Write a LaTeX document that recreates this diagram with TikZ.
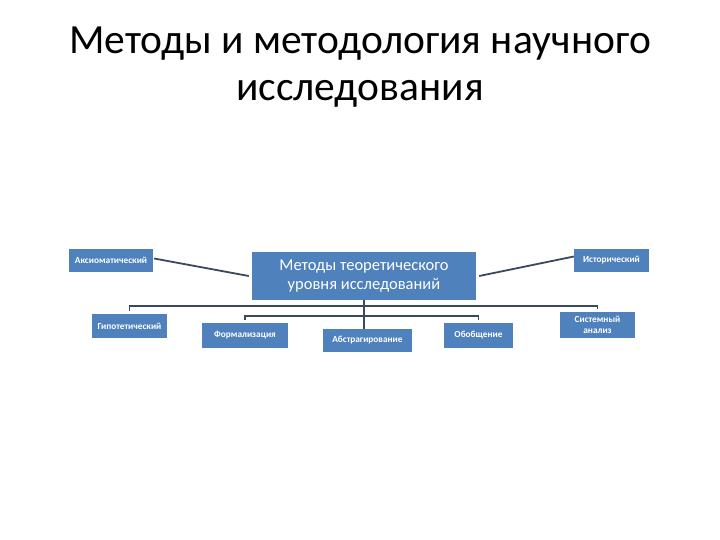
\documentclass[tikz,border=0pt]{standalone}
\usepackage{fontspec}
\setmainfont{Carlito}
\definecolor{boxblue}{HTML}{4F81BD}
\definecolor{linecol}{HTML}{3A4A5E}
\begin{document}
\begin{tikzpicture}[x=1pt,y=-1pt,
  small/.style={draw=none,fill=boxblue,text=white,font=\bfseries\fontsize{9.3}{10.5}\selectfont,inner sep=0pt,align=center},
  big/.style={draw=none,fill=boxblue,text=white,font=\fontsize{16.5}{19}\selectfont,inner sep=0pt,align=center},
  conn/.style={draw=linecol,line width=1.8pt}]
\useasboundingbox (0,0) rectangle (720,540);
\node (title) at (360,67) [font=\fontsize{41.5}{47}\selectfont,align=center,text=black] {Методы и методология научного\\исследования};
\node[big,minimum width=224pt,minimum height=48pt] (main) at (364,276) {Методы теоретического\\уровня исследований};
\node[small,minimum width=84pt,minimum height=23pt] (aks) at (111,260.5) {Аксиоматический};
\node[small,minimum width=75pt,minimum height=23pt] (ist) at (611.5,260.5) {Исторический};
\node[small,minimum width=75pt,minimum height=24pt] (gip) at (129.5,326) {Гипотетический};
\node[small,minimum width=86pt,minimum height=25pt] (form) at (245,335.5) {Формализация};
\node[small,minimum width=89pt,minimum height=23pt] (abs) at (367.5,340.5) {Абстрагирование};
\node[small,minimum width=69pt,minimum height=25pt] (obob) at (478.5,335.5) {Обобщение};
\node[small,minimum width=75pt,minimum height=26pt] (sys) at (597.5,325) {Системный\\анализ};
\coordinate (bus1) at (364,306);
\coordinate (bus2) at (364,316);
\draw[conn] ([xshift=1pt,yshift=2pt]aks.east) -- ([xshift=-3pt]main.west);
\draw[conn] ([xshift=3pt]main.east) -- ([yshift=4pt]ist.west);
\draw[conn] ([yshift=3pt]gip.north) |- (bus1) -| ([yshift=3pt]sys.north);
\draw[conn] ([yshift=3pt]form.north) |- (bus2) -| ([yshift=3pt]obob.north);
\draw[conn] (main.south) -- (main.south |- abs.north);
\end{tikzpicture}
\end{document}
